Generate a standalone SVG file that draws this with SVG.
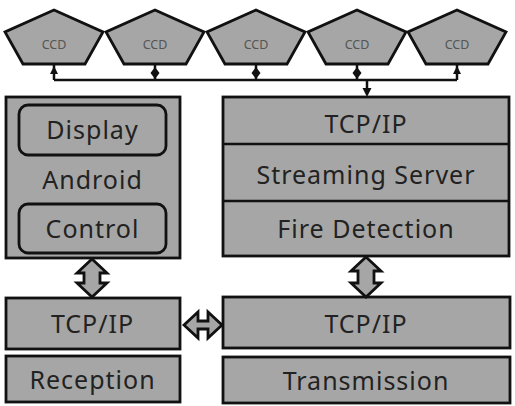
<svg xmlns="http://www.w3.org/2000/svg" width="515" height="406" viewBox="0 0 515 406">
<defs>
<style>
.box{fill:#a6a6a6;stroke:#111;stroke-width:2.8}
.in{fill:#a6a6a6;stroke:#111;stroke-width:2.8}
.t{font-family:"Noto Sans","Open Sans",sans-serif;font-size:25px;fill:#222;text-anchor:middle;letter-spacing:1px}
.c{font-family:"Noto Sans","Open Sans",sans-serif;font-size:12.5px;fill:#555;text-anchor:middle}
.ln{stroke:#111;stroke-width:2.5;fill:none}
.ah{fill:#111;stroke:none}
.ba{fill:#a6a6a6;stroke:#111;stroke-width:2.8;stroke-linejoin:miter}
</style>
<polygon id="pent" points="0,-22 49,0 31,32 -31,32 -49,0"/>
</defs>
<rect width="515" height="406" fill="#fff"/>
<g id="ccd1"><use href="#pent" x="54" y="32" class="box"/><text class="c" x="54" y="49">CCD</text></g>
<g id="ccd2"><use href="#pent" x="155" y="32" class="box"/><text class="c" x="155" y="49">CCD</text></g>
<g id="ccd3"><use href="#pent" x="256" y="32" class="box"/><text class="c" x="256" y="49">CCD</text></g>
<g id="ccd4"><use href="#pent" x="357" y="32" class="box"/><text class="c" x="357" y="49">CCD</text></g>
<g id="ccd5"><use href="#pent" x="457" y="32" class="box"/><text class="c" x="457" y="49">CCD</text></g>
<g id="android">
<rect class="box" x="6" y="97" width="174" height="161"/>
<rect class="in" x="19" y="105" width="147" height="50" rx="9"/>
<text class="t" x="92.5" y="139">Display</text>
<text class="t" x="92.5" y="189">Android</text>
<rect class="in" x="19" y="204" width="147" height="49" rx="9"/>
<text class="t" x="92.5" y="238">Control</text>
</g>
<g id="server">
<rect class="box" x="223" y="97" width="286" height="159"/>
<line class="ln" x1="223" y1="144" x2="509" y2="144"/>
<line class="ln" x1="223" y1="201" x2="509" y2="201"/>
<text class="t" x="366" y="133">TCP/IP</text>
<text class="t" x="366" y="184">Streaming Server</text>
<text class="t" x="366" y="238">Fire Detection</text>
</g>
<g id="tcpL"><rect class="box" x="6" y="298" width="174" height="51"/><text class="t" x="92.5" y="333">TCP/IP</text></g>
<g id="reception"><rect class="box" x="6" y="356" width="174" height="46"/><text class="t" x="92.5" y="389">Reception</text></g>
<g id="tcpR"><rect class="box" x="223" y="297" width="287" height="51"/><text class="t" x="366" y="333">TCP/IP</text></g>
<g id="transmission"><rect class="box" x="223" y="357" width="287" height="46"/><text class="t" x="366" y="390">Transmission</text></g>
<g id="connectors">
<path class="ln" d="M54,80 H457 M54,64 V80 M155,64 V80 M256,64 V80 M357,64 V80 M457,64 V80 M367,80 V90"/>
<polygon class="ah" points="54,66 50,74 58,74"/>
<polygon class="ah" points="457,66 453,74 461,74"/>
<polygon class="ah" points="155,67 159.5,73 155,79 150.5,73"/>
<polygon class="ah" points="256,67 260.5,73 256,79 251.5,73"/>
<polygon class="ah" points="357,67 361.5,73 357,79 352.5,73"/>
<polygon class="ah" points="367,97 362.5,88 371.5,88"/>
<polygon class="ba" points="92,259 107,273 100,273 100,283 107,283 92,297 77,283 84,283 84,273 77,273"/>
<polygon class="ba" points="366,257 381,271 374,271 374,283 381,283 366,297 351,283 358,283 358,271 351,271"/>
<polygon class="ba" points="184,325 198,312 198,321 208,321 208,312 222,325 208,338 208,329 198,329 198,338"/>
</g>
</svg>
